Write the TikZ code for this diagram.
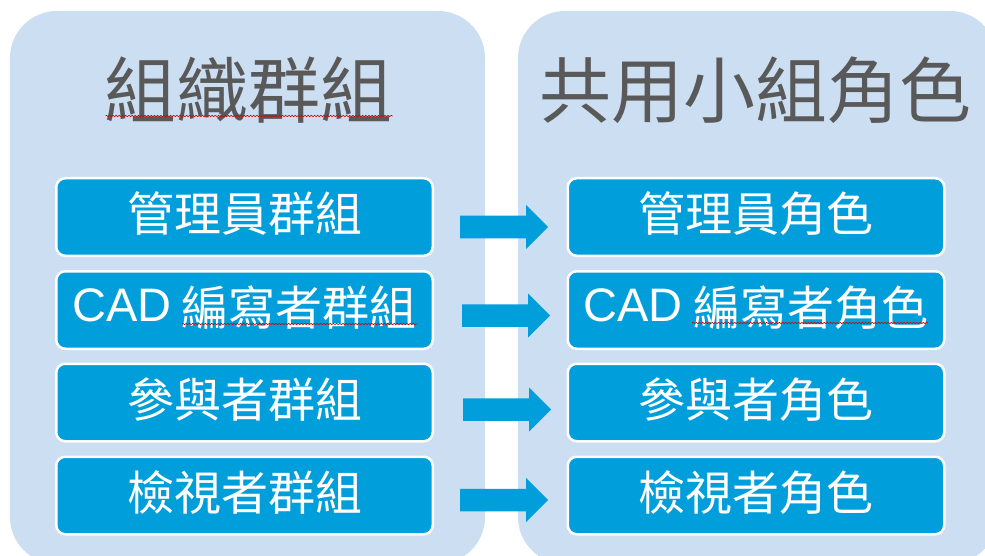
\documentclass[tikz,border=0pt]{standalone}
\usepackage{fontspec}
\newfontfamily\cjk{Noto Sans CJK TC}
\newfontfamily\lat{Liberation Sans}
\usetikzlibrary{calc,decorations.pathmorphing}
\definecolor{panelblue}{RGB}{204,222,242}
\definecolor{boxblue}{RGB}{0,158,219}
\definecolor{titlegray}{RGB}{89,89,89}
\tikzset{
  panel/.style={fill=panelblue, draw=none, rounded corners=47pt, inner sep=0pt, minimum height=553pt},
  paneltitle/.style={text=titlegray, font=\cjk\fontsize{72}{72}\selectfont, inner sep=0pt},
  rolebox/.style={fill=boxblue, draw=white, line width=2.5pt, rounded corners=9pt,
    minimum width=376.5pt, minimum height=77.5pt, inner sep=0pt, text=white,
    text height=39pt, text depth=9pt,
    font=\cjk\fontsize{47}{47}\selectfont},
  arrowfill/.style={fill=boxblue},
  squiggle/.style={draw=red!85!black, line width=0.6pt, decorate,
    decoration={snake, amplitude=0.7pt, segment length=3.2pt}},
}
\newcommand\myblockarrow[1]{%
  \fill[arrowfill] (#1) ++(0,-11.25) -- ++(66,0) -- ++(0,-10.75) -- ++(22,22)
    -- ++(-22,22) -- ++(0,-10.75) -- ++(-66,0) -- cycle;}
\newcommand\cadword{\raisebox{4pt}{\lat CAD}}
\begin{document}
\begin{tikzpicture}[x=1pt,y=-1pt]
\useasboundingbox (0,0) rectangle (985,556);
\clip (0,0) rectangle (985,556);
% panels
\node[panel, minimum width=475pt] (lp) at (247.5,287.5) {};
\node[panel, minimum width=479pt] (rp) at (757.5,287.5) {};
% titles
\node[paneltitle] (t1) at (248.5,90) {組織群組};
\node[paneltitle] (t2) at (755.5,90) {共用小組角色};
\draw[squiggle] ($(t1.center)+(-143,26)$) -- ($(t1.center)+(144,26)$);
% group boxes
\node[rolebox] (g1) at (244.5,217) {管理員群組};
\node[rolebox] (g2) at (244.5,310) {\cadword{} 編寫者群組};
\node[rolebox] (g3) at (244.5,402.5) {參與者群組};
\node[rolebox] (g4) at (244.5,495.5) {檢視者群組};
% role boxes
\node[rolebox] (r1) at (756,217) {管理員角色};
\node[rolebox] (r2) at (756,310) {\cadword{} 編寫者角色};
\node[rolebox] (r3) at (756,402.5) {參與者角色};
\node[rolebox] (r4) at (756,495.5) {檢視者角色};
\draw[squiggle] ($(g2.center)+(-62.5,14)$) -- ($(g2.center)+(172.5,14)$);
\draw[squiggle] ($(r2.center)+(-64,13)$) -- ($(r2.center)+(172,13)$);
% arrows
\coordinate (a1) at ($(g1.east)+(26,10)$);
\coordinate (a2) at ($(g2.east)+(28,5.5)$);
\coordinate (a3) at ($(g3.east)+(29,7)$);
\coordinate (a4) at ($(g4.east)+(26,4.5)$);
\myblockarrow{a1}
\myblockarrow{a2}
\myblockarrow{a3}
\myblockarrow{a4}
\end{tikzpicture}
\end{document}
